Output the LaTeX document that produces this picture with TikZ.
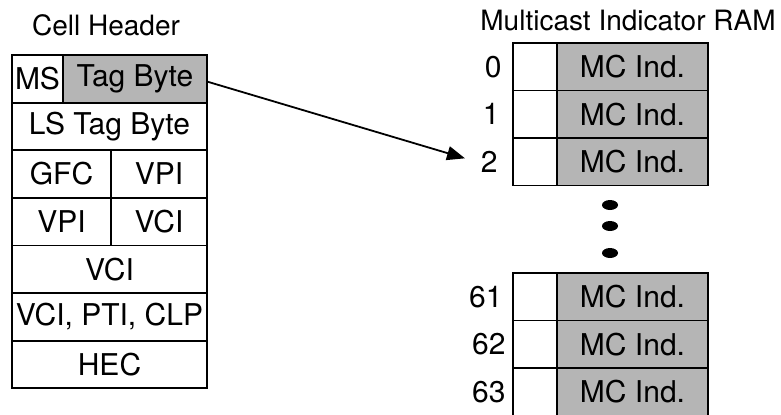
\documentclass[tikz,border=0pt]{standalone}
\usepackage{fontspec}
\setmainfont{TeX Gyre Heros}
\usetikzlibrary{arrows.meta,shapes.geometric}

\begin{document}
\begin{tikzpicture}[
  x=0.5pt, y=-0.5pt,
  font=\fontsize{15}{18}\selectfont,
  every node/.style={inner sep=2pt},
  cell/.style={draw, line width=0.9pt, minimum height=23.8pt, inner sep=0pt, fill=white},
  ramcell/.style={draw, line width=0.9pt, minimum height=23.75pt, inner sep=0pt, fill=white},
  tagged/.style={fill=black!29},
  title/.style={font=\fontsize{14}{17}\selectfont},
  addr/.style={anchor=east},
  dot/.style={ellipse, fill=black, minimum width=8pt, minimum height=5pt, inner sep=0pt},
  pointer/.style={line width=0.9pt, -{Triangle[length=9pt, width=7pt]}, shorten >=6pt},
]
\useasboundingbox (0,0) rectangle (781,414);

% cell header fields
\node[title] (hdr) at (106,25) {Cell Header};
\node[cell, minimum width=25.5pt] (ms)  at (37.5,78.8) {MS};
\node[cell, tagged, minimum width=72pt] (tag) at (135,78.8) {Tag Byte};
\node[cell, minimum width=97.5pt] (ls)  at (109.5,126.4) {LS Tag Byte};
\node[cell, minimum width=49.5pt] (gfc) at (61.5,174) {GFC};
\node[cell, minimum width=48pt]   (vpia) at (159,174) {VPI};
\node[cell, minimum width=49.5pt] (vpib) at (61.5,221.6) {VPI};
\node[cell, minimum width=48pt]   (vcia) at (159,221.6) {VCI};
\node[cell, minimum width=97.5pt] (vcib) at (109.5,269.2) {VCI};
\node[cell, minimum width=97.5pt] (pti) at (109.5,316.8) {VCI, PTI, CLP};
\node[cell, minimum width=97.5pt] (hec) at (109.5,364.4) {HEC};

% multicast indicator RAM, first rows
\node[title] (ram) at (628,20) {Multicast Indicator RAM};
\node[ramcell, minimum width=22pt] (f0) at (535,66.75) {};
\node[ramcell, tagged, minimum width=75.5pt] (m0) at (632.5,66.75) {MC Ind.};
\node[ramcell, minimum width=22pt] (f1) at (535,114.25) {};
\node[ramcell, tagged, minimum width=75.5pt] (m1) at (632.5,114.25) {MC Ind.};
\node[ramcell, minimum width=22pt] (f2) at (535,161.75) {};
\node[ramcell, tagged, minimum width=75.5pt] (m2) at (632.5,161.75) {MC Ind.};
\node[addr] (n0) at (506,66.75) {0};
\node[addr] (n1) at (504,114.25) {1};
\node[addr] (n2) at (502,161.75) {2};

% skipped rows
\node[dot] (d1) at (610,205) {};
\node[dot] (d2) at (610,226) {};
\node[dot] (d3) at (610,253) {};

% last rows
\node[ramcell, minimum width=22pt] (f61) at (535,296.75) {};
\node[ramcell, tagged, minimum width=75.5pt] (m61) at (632.5,296.75) {MC Ind.};
\node[ramcell, minimum width=22pt] (f62) at (535,344.25) {};
\node[ramcell, tagged, minimum width=75.5pt] (m62) at (632.5,344.25) {MC Ind.};
\node[ramcell, minimum width=22pt] (f63) at (535,391.75) {};
\node[ramcell, tagged, minimum width=75.5pt] (m63) at (632.5,391.75) {MC Ind.};
\node[addr] (n61) at (507,296.75) {61};
\node[addr] (n62) at (510,344.25) {62};
\node[addr] (n63) at (510,391.75) {63};

% tag byte indexes the RAM
\draw[pointer] ([yshift=-1.5pt]tag.east) -- (n2.west);
\end{tikzpicture}
\end{document}
